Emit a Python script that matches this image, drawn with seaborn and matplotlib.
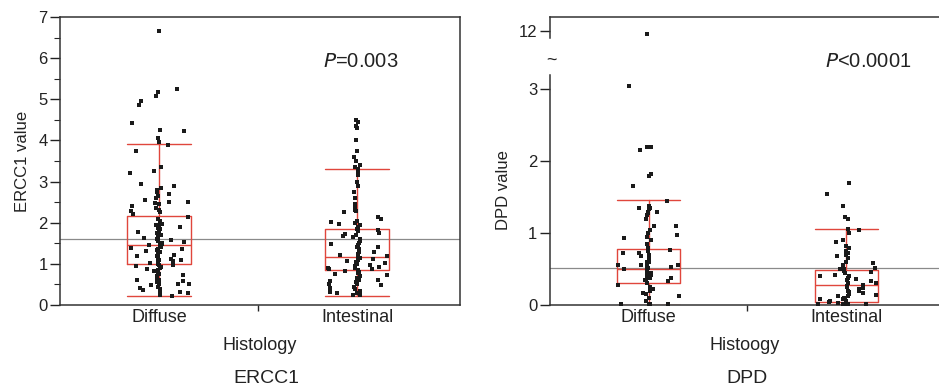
import numpy as np
import pandas as pd
import matplotlib
matplotlib.use('Agg')
import matplotlib.pyplot as plt
import seaborn as sns

sns.set_style('white')
plt.rcParams['font.family'] = ['Liberation Sans', 'DejaVu Sans']

groups = ['Diffuse', 'Intestinal']
red = '#e0463c'

# ERCC1 values (points on the centre column / points spread out)
ercc1_diffuse_center = [6.65, 4.25, 4.05, 3.95, 3.35, 2.85, 2.8, 2.75, 2.6, 2.45, 2.35, 2.3, 2.25,
                        2.1, 2.05, 2.0, 1.95, 1.93, 1.92, 1.9, 1.88, 1.85, 1.8, 1.75, 1.72, 1.7,
                        1.65, 1.6, 1.55, 1.5, 1.48, 1.45, 1.42, 1.4, 1.36, 1.33, 1.3, 1.28, 1.25,
                        1.2, 1.15, 1.1, 1.05, 1.0, 0.97, 0.93, 0.9, 0.85, 0.8, 0.75, 0.7, 0.65,
                        0.6, 0.55, 0.5, 0.45, 0.4, 0.35, 0.3, 0.25]
ercc1_diffuse_spread = [5.25, 5.18, 5.08, 4.95, 4.85, 4.42, 4.22, 3.9, 3.75, 3.25, 3.22, 2.95, 2.9,
                        2.7, 2.65, 2.55, 2.5, 2.5, 2.48, 2.4, 2.28, 2.2, 2.15, 1.97, 1.9, 1.78,
                        1.62, 1.58, 1.52, 1.47, 1.38, 1.35, 1.32, 1.22, 1.18, 1.12, 1.1, 1.08,
                        1.02, 0.98, 0.95, 0.88, 0.82, 0.72, 0.62, 0.58, 0.52, 0.5, 0.48, 0.42,
                        0.37, 0.32, 0.28, 0.22]
ercc1_intestinal_center = [4.5, 4.45, 4.35, 4.3, 4.0, 3.75, 3.6, 3.5, 3.4, 3.35, 3.3, 3.2, 3.15,
                           3.0, 2.9, 2.75, 2.6, 2.45, 2.4, 2.35, 2.3, 2.05, 2.0, 1.95, 1.9, 1.85,
                           1.8, 1.7, 1.6, 1.5, 1.45, 1.4, 1.3, 1.25, 1.2, 1.15, 1.1, 1.05, 1.0,
                           0.95, 0.9, 0.85, 0.8, 0.7, 0.6, 0.5, 0.4, 0.3, 0.25]
ercc1_intestinal_spread = [2.28, 2.25, 2.15, 2.1, 2.02, 1.98, 1.82, 1.75, 1.72, 1.68, 1.65, 1.55,
                           1.48, 1.42, 1.35, 1.28, 1.22, 1.18, 1.12, 1.08, 1.02, 0.97, 0.92, 0.9,
                           0.88, 0.87, 0.82, 0.78, 0.75, 0.72, 0.65, 0.62, 0.58, 0.55, 0.52, 0.48,
                           0.45, 0.42, 0.38, 0.35, 0.32, 0.28, 0.24]
# box stats: q1, median, q3, whisker low, whisker high
ercc1_q1 = [1.0, 0.85]
ercc1_med = [1.47, 1.17]
ercc1_q3 = [2.17, 1.85]
ercc1_lo = [0.22, 0.22]
ercc1_hi = [3.92, 3.31]
ercc1_ref = 1.6

# DPD values
dpd_diffuse_center = [11.95, 2.2, 2.2, 1.82, 1.8, 1.38, 1.35, 1.33, 1.3, 1.25, 1.2, 1.05, 1.0,
                      0.95, 0.9, 0.85, 0.8, 0.75, 0.7, 0.65, 0.62, 0.6, 0.58, 0.55, 0.52, 0.5,
                      0.48, 0.45, 0.42, 0.4, 0.35, 0.3, 0.25, 0.2, 0.15, 0.1, 0.05, 0.01, 0.01]
dpd_diffuse_spread = [3.05, 2.15, 1.65, 1.45, 1.35, 1.3, 1.28, 1.1, 1.1, 0.97, 0.93, 0.77, 0.72,
                      0.72, 0.68, 0.6, 0.56, 0.55, 0.55, 0.53, 0.5, 0.46, 0.38, 0.37, 0.35, 0.33,
                      0.28, 0.22, 0.17, 0.12, 0.01, 0.01]
dpd_intestinal_center = [1.7, 1.22, 1.2, 1.06, 1.0, 0.9, 0.82, 0.8, 0.75, 0.72, 0.7, 0.65, 0.6,
                         0.55, 0.5, 0.48, 0.45, 0.4, 0.35, 0.3, 0.27, 0.25, 0.2, 0.18, 0.15, 0.13,
                         0.1, 0.1, 0.08, 0.05, 0.02, 0.01]
dpd_intestinal_spread = [1.55, 1.38, 1.05, 0.88, 0.68, 0.58, 0.52, 0.5, 0.46, 0.42, 0.4, 0.38,
                         0.36, 0.33, 0.3, 0.28, 0.23, 0.22, 0.2, 0.17, 0.14, 0.12, 0.09, 0.06,
                         0.04, 0.03, 0.02, 0.01, 0.01, 0.01]
dpd_q1 = [0.3, 0.04]
dpd_med = [0.5, 0.28]
dpd_q3 = [0.78, 0.49]
dpd_lo = [0.0, 0.0]
dpd_hi = [1.46, 1.06]
dpd_ref = 0.52


def box_stats(q1, med, q3, lo, hi):
    return [dict(q1=q1[i], med=med[i], q3=q3[i], whislo=lo[i], whishi=hi[i], fliers=[])
            for i in range(len(q1))]


def to_frame(diffuse, intestinal):
    return pd.DataFrame({'histology': ['Diffuse'] * len(diffuse) + ['Intestinal'] * len(intestinal),
                         'value': diffuse + intestinal})


def draw_group(ax, center, spread, stats, ref, seed):
    ax.axhline(ref, color='#8a8a8a', lw=0.9, zorder=1)
    lp = dict(color=red, lw=1.0)
    ax.bxp(stats, positions=[0, 1], widths=0.32, capwidths=0.32, showfliers=False,
           boxprops=lp, whiskerprops=lp, capprops=lp, medianprops=lp, manage_ticks=False)
    np.random.seed(seed)
    sns.stripplot(data=center, x='histology', y='value', order=groups, ax=ax, color='#1a1a1a',
                  marker='s', size=2.3, jitter=0.015, linewidth=0, zorder=3)
    sns.stripplot(data=spread, x='histology', y='value', order=groups, ax=ax, color='#1a1a1a',
                  marker='s', size=2.3, jitter=0.16, linewidth=0, zorder=3)


def style_axis(ax):
    ax.tick_params(axis='y', which='major', direction='out', length=7, width=1,
                   left=True, labelsize=12, pad=2, colors='#222222')
    ax.tick_params(axis='y', which='minor', direction='out', length=4, width=0.8, left=True)
    for s in ax.spines.values():
        s.set_color('#333333')
        s.set_linewidth(1.1)


def style_x(ax, label):
    ax.set_xticks([0, 1], groups)
    ax.set_xticks([0.5], minor=True)
    ax.tick_params(axis='x', which='major', length=0, labelsize=13, pad=3, colors='#222222')
    ax.tick_params(axis='x', which='minor', bottom=True, direction='out', length=4, width=1)
    ax.set_xlabel(label, fontsize=13, labelpad=8, color='#222222')


fig = plt.figure(figsize=(9.39, 3.86), dpi=100)

# ERCC1 panel
ax1 = fig.add_axes([0.0639, 0.2098, 0.426, 0.7462])
draw_group(ax1, to_frame(ercc1_diffuse_center, ercc1_intestinal_center),
           to_frame(ercc1_diffuse_spread, ercc1_intestinal_spread),
           box_stats(ercc1_q1, ercc1_med, ercc1_q3, ercc1_lo, ercc1_hi), ercc1_ref, 3)
ax1.set_ylim(0, 7)
ax1.set_xlim(-0.5, 1.52)
ax1.set_yticks(range(8))
ax1.set_yticks(np.arange(0.5, 7, 1), minor=True)
style_axis(ax1)
style_x(ax1, 'Histology')
ax1.set_ylabel('ERCC1 value', fontsize=12, labelpad=6, color='#222222')
fig.text(0.344, 0.8394, '$\\it{P}$=0.003', fontsize=14.5, ha='left', va='center',
         color='#222222')
fig.text(0.2832, 0.0207, 'ERCC1', fontsize=14, ha='center', va='center', color='#222222')

# DPD panel, broken axis
ax2 = fig.add_axes([0.5857, 0.2098, 0.4143, 0.5959])
ax3 = fig.add_axes([0.5857, 0.9016, 0.4143, 0.0544], sharex=ax2)
dstats = box_stats(dpd_q1, dpd_med, dpd_q3, dpd_lo, dpd_hi)
dcenter = to_frame(dpd_diffuse_center, dpd_intestinal_center)
dspread = to_frame(dpd_diffuse_spread, dpd_intestinal_spread)
draw_group(ax2, dcenter, dspread, dstats, dpd_ref, 5)
draw_group(ax3, dcenter, dspread, dstats, dpd_ref, 5)
ax2.set_ylim(0, 3.2)
ax3.set_ylim(11.9, 12.2)
ax2.set_xlim(-0.5, 1.47)
ax2.set_yticks([0, 1, 2, 3])
ax3.set_yticks([12])
for ax in (ax2, ax3):
    style_axis(ax)
    ax.spines['right'].set_visible(False)
ax2.spines['top'].set_visible(False)
ax3.spines['bottom'].set_visible(False)
ax3.tick_params(axis='x', which='both', bottom=False, labelbottom=False)
ax3.set_xlabel('')
ax3.set_ylabel('')
style_x(ax2, 'Histoogy')
ax2.set_ylabel('DPD value', fontsize=12, labelpad=12, color='#222222')
fig.text(0.5868, 0.845, '~', fontsize=13, ha='center', va='center', color='#222222')
fig.text(0.8786, 0.8394, '$\\it{P}$<0.0001', fontsize=14.5, ha='left', va='center',
         color='#222222')
fig.text(0.7955, 0.0207, 'DPD', fontsize=14, ha='center', va='center', color='#222222')

fig.savefig('out.png', dpi=100)
